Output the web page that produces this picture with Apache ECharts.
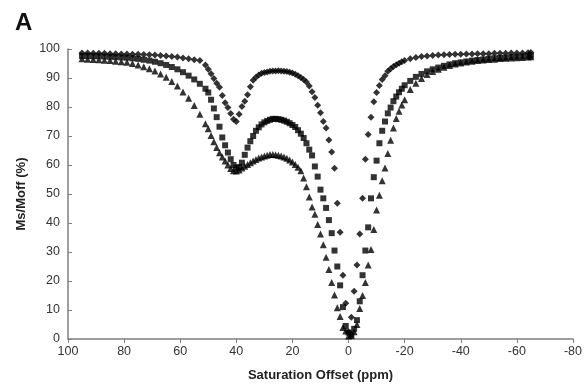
<!DOCTYPE html>
<html>
<head>
<meta charset="utf-8">
<script src="https://cdn.jsdelivr.net/npm/echarts@6/dist/echarts.min.js"></script>
<style>
  html, body { margin: 0; padding: 0; background: #fff; }
  #chart { width: 585px; height: 387px; }
</style>
</head>
<body>
<div id="chart"></div>
<script>
// saturation offsets (ppm), shared by the three curves
var offsets = [
  95, 93, 91, 89, 87, 85, 83, 81, 79, 77, 75, 73, 71, 69, 67, 65, 63, 61, 59, 57, 55, 53, 51,
  50, 49, 48, 47, 46, 45, 44, 43, 42, 41, 40, 39, 38, 37, 36, 35, 34, 33, 32, 31,
  30, 29, 28, 27, 26, 25, 24, 23, 22, 21, 20, 19, 18, 17, 16, 15, 14, 13, 12, 11,
  10, 9, 8, 7, 6, 5, 4, 3, 2, 1, 0, -1, -2, -3, -4, -5, -6, -7, -8, -9,
  -10, -11, -12, -13, -14, -15, -16, -17, -18, -19, -20,
  -22, -24, -26, -28, -30, -32, -34, -36, -38, -40, -42, -44, -46, -48, -50,
  -52, -54, -56, -58, -60, -62, -64, -65
]

// Ms/Moff (%)
var diamonds = [
  98.6, 98.6, 98.5, 98.5, 98.5, 98.4, 98.4, 98.3, 98.3, 98.2, 98.2, 98.1, 98.0, 97.9, 97.8, 97.6, 97.4, 97.2, 96.9, 96.6, 96.3, 96.0, 94.5,
  93.0, 91.5, 89.8, 88.2, 86.8, 84.0, 81.5, 79.8, 77.8, 75.8, 75.0, 77.5, 80.2, 82.0, 84.2, 87.0, 89.2, 90.3, 91.0, 91.6,
  91.9, 92.1, 92.3, 92.4, 92.4, 92.5, 92.4, 92.3, 92.2, 92.0, 91.7, 91.3, 90.8, 90.2, 89.5, 88.6, 87.2, 85.3, 83.3, 80.6,
  78.0, 75.0, 72.8, 68.6, 64.5, 58.9, 46.8, 36.8, 22.0, 12.3, 2.5, 7.5, 16.5, 25.5, 36.2, 48.5, 62.0, 70.5, 76.5, 81.8,
  85.0, 87.4, 89.5, 90.8, 92.3, 93.2, 94.0, 94.6, 95.1, 95.6, 96.0,
  96.6, 97.1, 97.4, 97.6, 97.8, 97.9, 98.0, 98.1, 98.2, 98.2, 98.3, 98.3, 98.4, 98.4, 98.4,
  98.5, 98.5, 98.5, 98.6, 98.6, 98.6, 98.7, 98.8
]
var squares = [
  97.6, 97.6, 97.5, 97.5, 97.4, 97.3, 97.2, 97.1, 97.0, 96.8, 96.6, 96.3, 96.0, 95.6, 95.1, 94.5, 93.8, 93.0, 92.0, 90.8, 89.5, 88.0, 86.3,
  85.0, 82.5, 79.5, 76.5, 73.2, 69.5, 66.8, 64.3, 62.0, 60.0, 59.0, 59.3, 60.8, 63.5, 66.0, 68.2, 70.0, 71.8, 73.0, 74.0,
  74.7, 75.2, 75.6, 75.9, 75.9, 75.8, 75.6, 75.3, 74.9, 74.4, 73.8, 73.1, 72.0, 70.8, 69.3, 67.5, 65.3, 63.3, 59.5, 56.0,
  51.5, 48.5, 45.2, 41.0, 36.5, 30.5, 25.0, 18.5, 11.0, 4.5, 2.2, 1.5, 3.5, 6.5, 13.0, 22.0, 30.5, 38.5, 48.5, 55.8,
  61.5, 67.5, 71.8, 75.0, 77.8, 79.8, 82.0, 83.6, 85.1, 86.3, 87.5,
  89.0, 90.4, 91.4, 92.3, 93.0, 93.6, 94.2, 94.7, 95.1, 95.4, 95.7, 96.0, 96.2, 96.4, 96.6,
  96.8, 96.9, 97.0, 97.2, 97.3, 97.4, 97.6, 97.7
]
var triangles = [
  96.6, 96.5, 96.4, 96.3, 96.1, 96.0, 95.8, 95.6, 95.4, 95.0, 94.5, 93.9, 93.2, 92.4, 91.4, 90.3, 88.8, 87.2, 85.2, 83.0, 80.5, 77.5, 74.2,
  72.5, 70.2, 68.0, 66.0, 64.2, 62.8, 61.4, 60.0, 58.8, 58.0, 57.9, 58.3, 59.0, 59.6, 60.2, 60.8, 61.4, 61.9, 62.4, 62.8,
  63.1, 63.4, 63.6, 63.6, 63.5, 63.4, 63.1, 62.8, 62.3, 61.7, 61.0, 60.2, 59.2, 58.0, 55.5, 52.5, 49.0, 45.5, 43.0, 39.5,
  36.2, 32.5, 28.2, 24.0, 19.5, 15.2, 10.8, 7.8, 4.0, 2.8, 1.0, 1.2, 2.5, 5.0, 10.5, 15.0, 19.5, 25.5, 30.9, 37.8,
  44.5, 49.6, 54.6, 59.0, 64.0, 68.5, 72.8, 76.0, 78.5, 80.7, 82.5,
  86.0, 88.2, 89.8, 91.2, 92.2, 93.0, 93.7, 94.3, 94.8, 95.2, 95.5, 95.8, 96.0, 96.2, 96.4,
  96.5, 96.7, 96.8, 96.9, 97.0, 97.1, 97.2, 97.3
]

function pairs(ys) {
  return offsets.map(function (x, i) { return [x, ys[i]] })
}

var myChart = echarts.init(document.getElementById('chart'))
var axisColor = '#7f7f7f'
var font = 'Liberation Sans, Arial, sans-serif'

var option = {
  backgroundColor: '#fff',
  animation: false,
  title: {
    text: 'A',
    left: 10,
    top: 6,
    textStyle: { fontFamily: font, fontSize: 24, fontWeight: 'bold', color: '#111' }
  },
  grid: { left: 68, right: 11, top: 49, bottom: 47 },
  xAxis: {
    type: 'value',
    inverse: true,
    min: -80,
    max: 100,
    interval: 20,
    name: 'Saturation Offset (ppm)',
    nameLocation: 'middle',
    nameGap: 30,
    nameTextStyle: { fontFamily: font, fontSize: 13, fontWeight: 'bold', color: '#222' },
    axisLine: { onZero: false, lineStyle: { color: axisColor, width: 1.5 } },
    axisTick: { inside: false, length: 4, lineStyle: { color: axisColor } },
    axisLabel: { fontFamily: font, fontSize: 12.5, color: '#333', margin: 6 },
    splitLine: { show: false }
  },
  yAxis: {
    type: 'value',
    position: 'left',
    min: 0,
    max: 100,
    interval: 10,
    name: 'Ms/Moff (%)',
    nameLocation: 'middle',
    nameGap: 40,
    nameTextStyle: { fontFamily: font, fontSize: 13, fontWeight: 'bold', color: '#222' },
    axisLine: { show: true, onZero: false, lineStyle: { color: axisColor, width: 1.5 } },
    axisTick: { show: true, inside: true, length: 4, lineStyle: { color: axisColor } },
    axisLabel: { fontFamily: font, fontSize: 12.5, color: '#333', margin: 8 },
    splitLine: { show: false }
  },
  series: [
    {
      name: 'diamonds',
      type: 'scatter',
      symbol: 'diamond',
      symbolSize: 7,
      itemStyle: { color: '#000' },
      data: pairs(diamonds)
    },
    {
      name: 'squares',
      type: 'scatter',
      symbol: 'rect',
      symbolSize: 6,
      itemStyle: { color: '#000' },
      data: pairs(squares)
    },
    {
      name: 'triangles',
      type: 'scatter',
      symbol: 'triangle',
      symbolSize: 7,
      itemStyle: { color: '#000' },
      data: pairs(triangles)
    }
  ]
}
myChart.setOption(option)
window.onresize = myChart.resize
</script>
</body>
</html>
